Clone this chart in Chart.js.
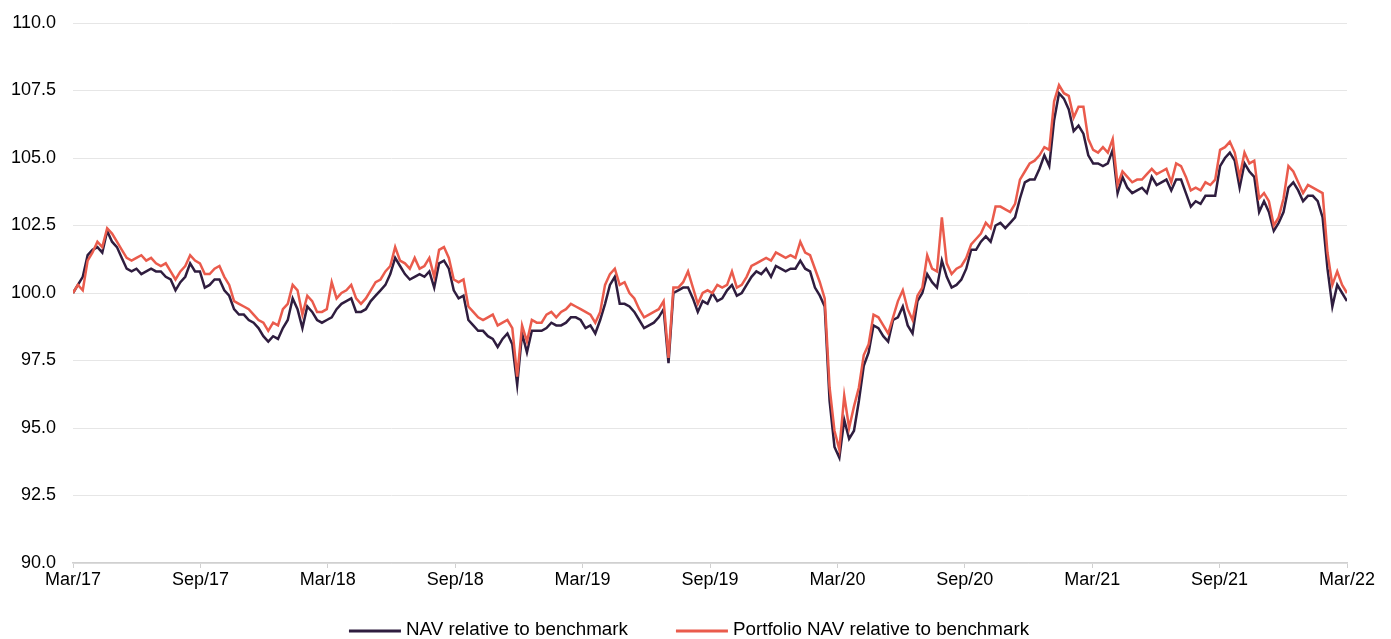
<!DOCTYPE html>
<html>
<head>
<meta charset="utf-8">
<script src="https://cdn.jsdelivr.net/npm/chart.js@4.4.1/dist/chart.umd.min.js"></script>
<style>
    html, body { margin: 0; padding: 0; background: #fff; overflow: hidden; }
    .wrap { position: relative; width: 1391px; height: 639px; }
</style>
</head>
<body>
<div class="wrap"><canvas id="chart"></canvas></div>
<script>
// weekly readings, Mar/17 .. Mar/22
const tickLabels = ["Mar/17", "Sep/17", "Mar/18", "Sep/18", "Mar/19", "Sep/19", "Mar/20", "Sep/20", "Mar/21", "Sep/21", "Mar/22"];
const seriesNames = ["NAV relative to benchmark", "Portfolio NAV relative to benchmark"];
const seriesColors = ["#2f1d3f", "#ea5b4c"];

const navRel = [
    100.0, 100.3, 100.6, 101.4, 101.6, 101.7, 101.5, 102.3, 101.9, 101.7,
    101.3, 100.9, 100.8, 100.9, 100.7, 100.8, 100.9, 100.8, 100.8, 100.6,
    100.5, 100.1, 100.4, 100.6, 101.1, 100.8, 100.8, 100.2, 100.3, 100.5,
    100.5, 100.1, 99.9, 99.4, 99.2, 99.2, 99.0, 98.9, 98.7, 98.4,
    98.2, 98.4, 98.3, 98.7, 99.0, 99.8, 99.4, 98.7, 99.5, 99.3,
    99.0, 98.9, 99.0, 99.1, 99.4, 99.6, 99.7, 99.8, 99.3, 99.3,
    99.4, 99.7, 99.9, 100.1, 100.3, 100.7, 101.3, 101.0, 100.7, 100.5,
    100.6, 100.7, 100.6, 100.8, 100.2, 101.1, 101.2, 100.9, 100.1, 99.8,
    99.9, 99.0, 98.8, 98.6, 98.6, 98.4, 98.3, 98.0, 98.3, 98.5,
    98.1, 96.6, 98.5, 97.8, 98.6, 98.6, 98.6, 98.7, 98.9, 98.8,
    98.8, 98.9, 99.1, 99.1, 99.0, 98.7, 98.8, 98.5, 99.0, 99.6,
    100.3, 100.6, 99.6, 99.6, 99.5, 99.3, 99.0, 98.7, 98.8, 98.9,
    99.1, 99.4, 97.4, 100.0, 100.1, 100.2, 100.2, 99.8, 99.3, 99.7,
    99.6, 100.0, 99.7, 99.8, 100.1, 100.3, 99.9, 100.0, 100.3, 100.6,
    100.8, 100.7, 100.9, 100.6, 101.0, 100.9, 100.8, 100.9, 100.9, 101.2,
    100.9, 100.8, 100.2, 99.9, 99.5, 96.0, 94.3, 93.9, 95.3, 94.6,
    94.9, 96.0, 97.3, 97.8, 98.8, 98.7, 98.4, 98.2, 99.0, 99.1,
    99.5, 98.8, 98.5, 99.7, 100.0, 100.7, 100.4, 100.2, 101.2, 100.6,
    100.2, 100.3, 100.5, 100.9, 101.6, 101.6, 101.9, 102.1, 101.9, 102.5,
    102.6, 102.4, 102.6, 102.8, 103.5, 104.1, 104.2, 104.2, 104.6, 105.1,
    104.7, 106.4, 107.4, 107.2, 106.8, 106.0, 106.2, 105.9, 105.1, 104.8,
    104.8, 104.7, 104.8, 105.3, 103.7, 104.3, 103.9, 103.7, 103.8, 103.9,
    103.7, 104.3, 104.0, 104.1, 104.2, 103.8, 104.2, 104.2, 103.7, 103.2,
    103.4, 103.3, 103.6, 103.6, 103.6, 104.7, 105.0, 105.2, 104.9, 103.9,
    104.8, 104.5, 104.3, 103.0, 103.4, 103.0, 102.3, 102.6, 103.0, 103.9,
    104.1, 103.8, 103.4, 103.6, 103.6, 103.4, 102.8, 100.9, 99.5, 100.3,
    100.0, 99.7
];

const portRel = [
    100.0, 100.3, 100.1, 101.2, 101.5, 101.9, 101.7, 102.4, 102.2, 101.9,
    101.6, 101.3, 101.2, 101.3, 101.4, 101.2, 101.3, 101.1, 101.0, 101.1,
    100.8, 100.5, 100.8, 101.0, 101.4, 101.2, 101.1, 100.7, 100.7, 100.9,
    101.0, 100.6, 100.3, 99.7, 99.6, 99.5, 99.4, 99.2, 99.0, 98.9,
    98.6, 98.9, 98.8, 99.4, 99.6, 100.3, 100.1, 99.2, 99.9, 99.7,
    99.3, 99.3, 99.4, 100.4, 99.8, 100.0, 100.1, 100.3, 99.8, 99.6,
    99.8, 100.1, 100.4, 100.5, 100.8, 101.0, 101.7, 101.2, 101.1, 100.9,
    101.3, 100.9, 101.0, 101.3, 100.6, 101.6, 101.7, 101.3, 100.5, 100.4,
    100.5, 99.5, 99.3, 99.1, 99.0, 99.1, 99.2, 98.8, 98.9, 99.0,
    98.7, 96.9, 98.8, 98.2, 99.0, 98.9, 98.9, 99.2, 99.3, 99.1,
    99.3, 99.4, 99.6, 99.5, 99.4, 99.3, 99.2, 98.9, 99.3, 100.3,
    100.7, 100.9, 100.3, 100.4, 100.0, 99.8, 99.4, 99.1, 99.2, 99.3,
    99.4, 99.7, 97.6, 100.2, 100.2, 100.4, 100.8, 100.2, 99.6, 100.0,
    100.1, 100.0, 100.3, 100.2, 100.3, 100.8, 100.2, 100.3, 100.6, 101.0,
    101.1, 101.2, 101.3, 101.2, 101.5, 101.4, 101.3, 101.4, 101.3, 101.9,
    101.5, 101.4, 100.9, 100.4, 99.8, 96.5, 94.9, 94.2, 96.2, 95.0,
    95.8, 96.5, 97.7, 98.1, 99.2, 99.1, 98.8, 98.5, 99.1, 99.7,
    100.1, 99.4, 99.0, 99.9, 100.2, 101.4, 100.9, 100.8, 102.8, 101.1,
    100.7, 100.9, 101.0, 101.3, 101.8, 102.0, 102.2, 102.6, 102.4, 103.2,
    103.2, 103.1, 103.0, 103.3, 104.2, 104.5, 104.8, 104.9, 105.1, 105.4,
    105.3, 107.1, 107.7, 107.4, 107.3, 106.5, 106.9, 106.9, 105.7, 105.3,
    105.2, 105.4, 105.2, 105.7, 104.0, 104.5, 104.3, 104.1, 104.2, 104.2,
    104.4, 104.6, 104.4, 104.5, 104.6, 104.1, 104.8, 104.7, 104.3, 103.8,
    103.9, 103.8, 104.1, 104.0, 104.2, 105.3, 105.4, 105.6, 105.2, 104.3,
    105.2, 104.8, 104.9, 103.5, 103.7, 103.4, 102.5, 102.8, 103.5, 104.7,
    104.5, 104.1, 103.7, 104.0, 103.9, 103.8, 103.7, 101.5, 100.3, 100.8,
    100.3, 100.0
];

// x in months since Mar/17 (60 months over the weekly points)
const toPoints = (arr) => arr.map((v, i) => ({ x: i * 60 / (arr.length - 1), y: v }));

const fontFamily = "'Liberation Sans', Arial, sans-serif";

// legend drawn under the axis: line sample + label, two items centred
const bottomLegend = {
    id: "bottomLegend",
    afterDraw(chart) {
        const c = chart.ctx;
        const lineW = 52, gap = 5, itemGap = 48, y = 630;
        c.save();
        c.font = "18.8px " + fontFamily;
        c.textBaseline = "middle";
        c.textAlign = "left";
        const widths = seriesNames.map((t) => c.measureText(t).width);
        const total = widths.reduce((a, w) => a + lineW + gap + w, 0) + itemGap;
        let x = 689 - total / 2;
        seriesNames.forEach((t, i) => {
            c.strokeStyle = seriesColors[i];
            c.lineWidth = 3;
            c.beginPath();
            c.moveTo(x, y + 1);
            c.lineTo(x + lineW, y + 1);
            c.stroke();
            c.fillStyle = "#000";
            c.fillText(t, x + lineW + gap, y);
            x += lineW + gap + widths[i] + itemGap;
        });
        c.restore();
    },
};

const ctx = document.getElementById("chart");

new Chart(ctx, {
    type: "line",
    data: {
        datasets: [
            {
                label: seriesNames[0],
                data: toPoints(navRel),
                borderColor: seriesColors[0],
                borderWidth: 2.5,
                order: 1,
            },
            {
                label: seriesNames[1],
                data: toPoints(portRel),
                borderColor: seriesColors[1],
                borderWidth: 2.5,
                order: 0,
            },
        ],
    },
    plugins: [bottomLegend],
    options: {
        responsive: true,
        maintainAspectRatio: false,
        animation: false,
        elements: {
            point: { radius: 0, hoverRadius: 0 },
            line: { tension: 0 },
        },
        layout: {
            padding: { left: 11, right: 44, top: 23, bottom: 0 },
        },
        plugins: {
            tooltip: { enabled: false },
            legend: { display: false },
        },
        scales: {
            x: {
                type: "linear",
                min: 0,
                max: 60,
                afterFit: (scale) => { scale.height = 76; },
                grid: {
                    drawOnChartArea: false,
                    drawTicks: true,
                    tickLength: 5,
                    color: "#d0d0d0",
                },
                border: { color: "#d0d0d0", width: 1.5 },
                ticks: {
                    stepSize: 6,
                    autoSkip: false,
                    maxRotation: 0,
                    padding: 1,
                    color: "#000",
                    font: { family: fontFamily, size: 18 },
                    callback: (v) => tickLabels[Math.round(v / 6)],
                },
            },
            y: {
                min: 90,
                max: 110,
                afterFit: (scale) => {
                    scale.width = 62;
                    scale.paddingTop = 10;
                    scale.paddingBottom = 10;
                },
                grid: { color: "#e6e6e6", drawTicks: false },
                border: { display: false },
                ticks: {
                    stepSize: 2.5,
                    padding: 17,
                    color: "#000",
                    font: { family: fontFamily, size: 18 },
                    callback: (v) => v.toFixed(1),
                },
            },
        },
    },
});
</script>
</body>
</html>
